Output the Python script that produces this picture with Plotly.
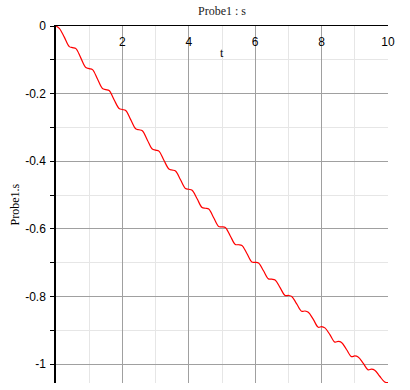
import plotly.graph_objects as go

# Data
t = [0.00, 0.10, 0.25, 0.40, 0.50, 0.60, 0.75, 0.90, 1.00, 1.10, 1.25, 1.40, 1.50, 1.60,
     1.75, 1.90, 2.00, 2.10, 2.25, 2.40, 2.50, 2.60, 2.75, 2.90, 3.00, 3.10, 3.25, 3.40,
     3.50, 3.60, 3.75, 3.90, 4.00, 4.10, 4.25, 4.40, 4.50, 4.60, 4.75, 4.90, 5.00, 5.10,
     5.25, 5.40, 5.50, 5.60, 5.75, 5.90, 6.00, 6.10, 6.25, 6.40, 6.50, 6.60, 6.75, 6.90,
     7.00, 7.10, 7.25, 7.40, 7.50, 7.60, 7.75, 7.90, 8.00, 8.10, 8.25, 8.40, 8.50, 8.60,
     8.75, 8.90, 9.00, 9.10, 9.25, 9.40, 9.50, 9.60, 9.75, 9.90, 10.00]
s = [0.000, -0.007, -0.033, -0.061, -0.064, -0.067, -0.095, -0.123, -0.126, -0.129, -0.157,
     -0.185, -0.188, -0.191, -0.218, -0.244, -0.247, -0.250, -0.277, -0.304, -0.307, -0.310,
     -0.337, -0.364, -0.367, -0.370, -0.397, -0.423, -0.426, -0.429, -0.455, -0.481, -0.483,
     -0.486, -0.511, -0.537, -0.539, -0.541, -0.567, -0.593, -0.594, -0.596, -0.621, -0.646,
     -0.647, -0.649, -0.673, -0.698, -0.699, -0.701, -0.724, -0.748, -0.749, -0.751, -0.774,
     -0.797, -0.797, -0.800, -0.822, -0.844, -0.843, -0.847, -0.868, -0.891, -0.889, -0.893,
     -0.913, -0.935, -0.933, -0.936, -0.957, -0.978, -0.976, -0.979, -0.997, -1.017, -1.015,
     -1.018, -1.036, -1.053, -1.055]

x_tickvals = [2, 4, 6, 8, 10]
x_ticktext = ["2", "4", "6", "8", "10"]
y_tickvals = [0, -0.2, -0.4, -0.6, -0.8, -1.0]
y_ticktext = ["0", "-0.2", "-0.4", "-0.6", "-0.8", "-1"]

title_text = "Probe1 : s"
x_label = "t"
y_label = "Probe1.s"

FONT = "Liberation Serif, Times New Roman, serif"
TICKFONT = "Liberation Sans, Arial, sans-serif"

fig = go.Figure()
fig.add_trace(go.Scatter(x=t, y=s, mode="lines",
                         line=dict(color="#ff0000", width=1.2, shape="spline", smoothing=1.0),
                         showlegend=False, hoverinfo="skip"))

fig.update_layout(
    width=410, height=390,
    margin=dict(l=56, r=22, t=26, b=7, autoexpand=False),
    paper_bgcolor="white", plot_bgcolor="white",
    font=dict(family=FONT, size=12, color="#000000"),
    title=dict(text=title_text, x=0.5, xref="paper", xanchor="center",
               y=1 - 11 / 390, yref="container", yanchor="middle",
               font=dict(family=FONT, size=12, color="#222222")),
    xaxis=dict(range=[0, 10], side="top", showline=True, linecolor="#000000", linewidth=1,
               tickvals=x_tickvals, ticktext=x_ticktext, ticks="",
               tickfont=dict(family=TICKFONT, size=12, color="#000000"),
               ticklabelposition="inside", ticklabeloverflow="allow", ticklabelstandoff=11,
               showgrid=True, gridcolor="#a0a0a0", gridwidth=1, automargin=False,
               minor=dict(dtick=1, tick0=0, showgrid=True, gridcolor="#e6e6e6", gridwidth=1),
               zeroline=False, fixedrange=True),
    yaxis=dict(range=[-1.056, 0], showline=True, linecolor="#000000", linewidth=1.5,
               tickvals=y_tickvals, ticktext=y_ticktext, ticks="outside", ticklen=4,
               tickfont=dict(family=TICKFONT, size=12, color="#000000"),
               tickcolor="#000000", ticklabelstandoff=2, automargin=False,
               showgrid=True, gridcolor="#a0a0a0", gridwidth=1,
               minor=dict(dtick=0.1, tick0=0, showgrid=True, gridcolor="#e6e6e6", gridwidth=1,
                          ticks="outside", ticklen=4, tickcolor="#000000"),
               zeroline=False, fixedrange=True),
)

fig.add_annotation(text=x_label, xref="paper", yref="paper", x=0.5, y=1 - (53 - 26) / 357,
                   showarrow=False, xanchor="center", yanchor="middle",
                   font=dict(family=FONT, size=12, color="#000000"))
fig.add_annotation(text=y_label, xref="paper", yref="paper", x=-(56 - 14) / 332, y=0.5,
                   textangle=-90, showarrow=False, xanchor="center", yanchor="middle",
                   font=dict(family=FONT, size=12, color="#000000"))

fig.write_html("out.html", config={"displayModeBar": False},
               post_script="document.body.style.margin='0px';")
